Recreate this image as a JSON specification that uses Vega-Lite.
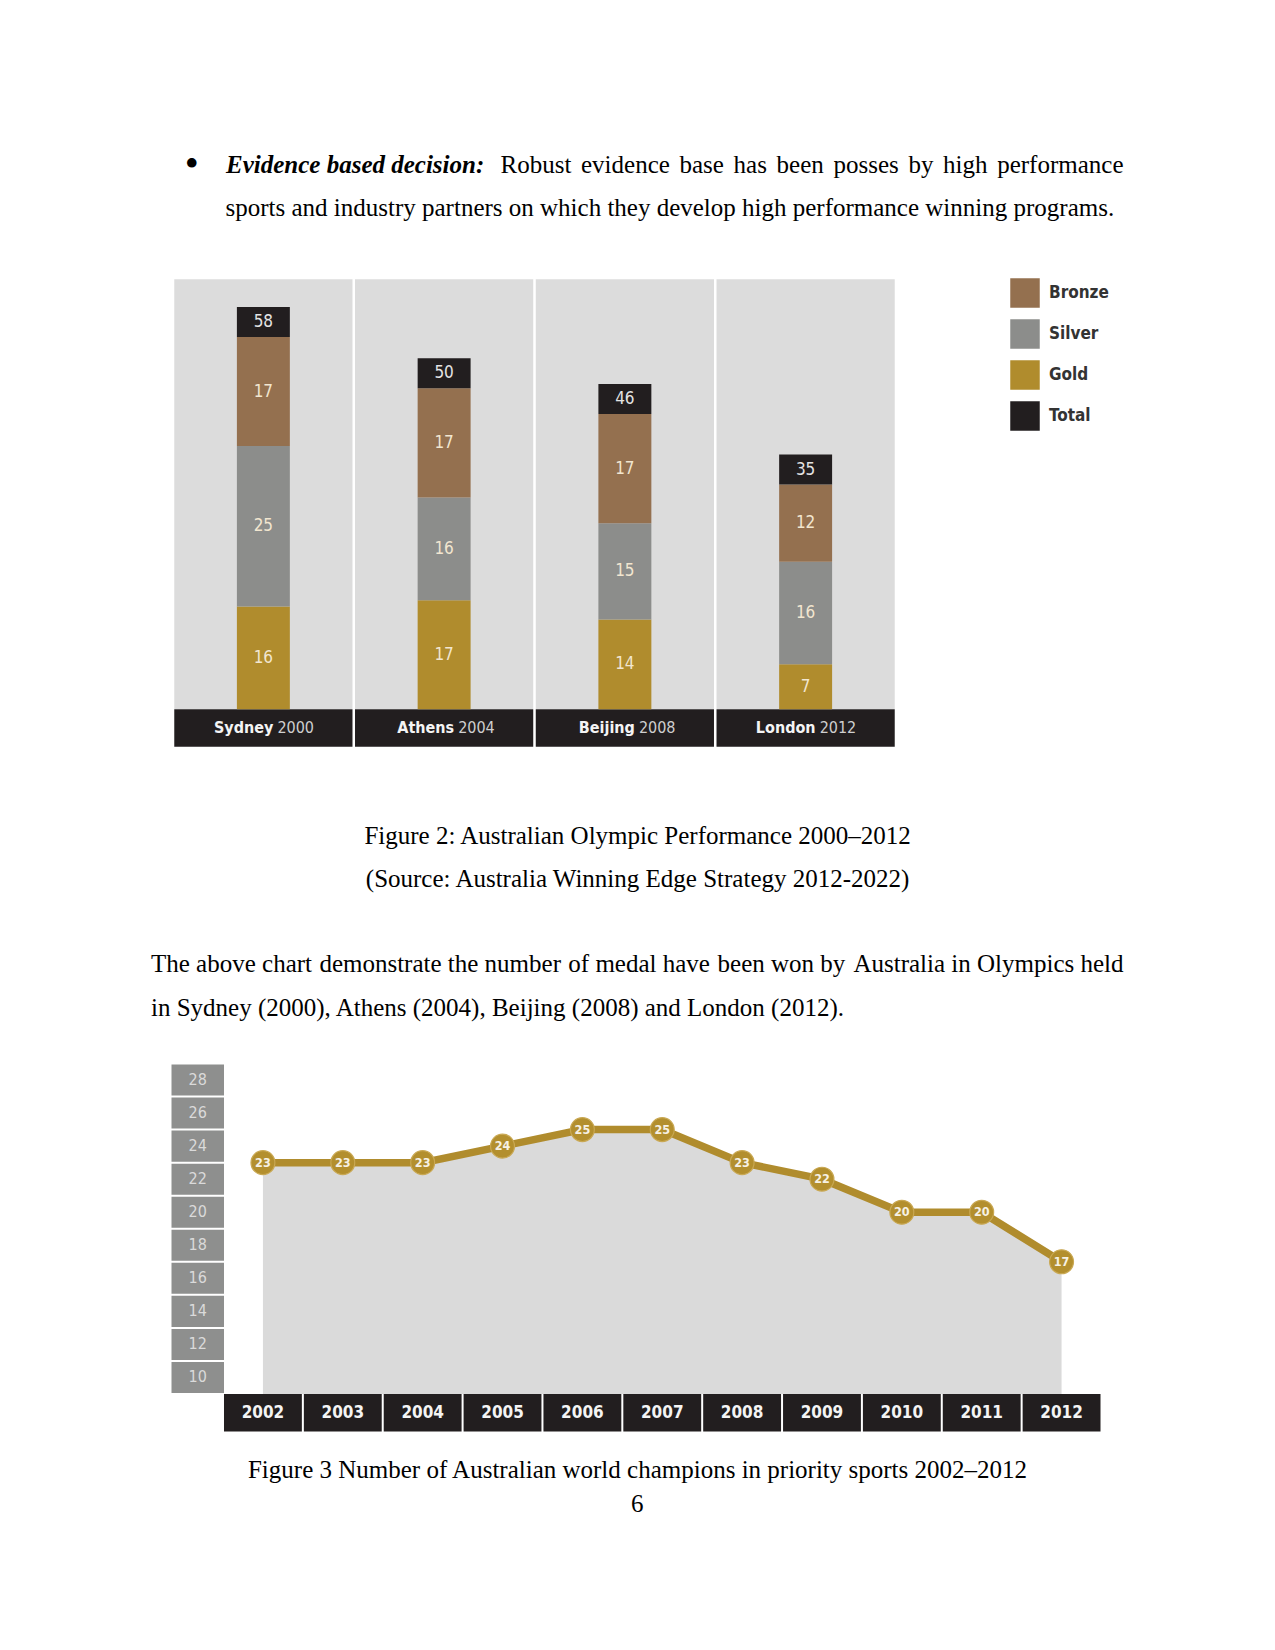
{
  "$schema": "https://vega.github.io/schema/vega-lite/v6.json",
  "width": 1275,
  "height": 1650,
  "autosize": {"type": "none"},
  "padding": 0,
  "background": "#ffffff",
  "config": {"view": {"stroke": null}},
  "datasets": {
    "medals": [
      {"city": "Sydney", "medal": "Gold", "count": 16},
      {"city": "Sydney", "medal": "Silver", "count": 25},
      {"city": "Sydney", "medal": "Bronze", "count": 17},
      {"city": "Athens", "medal": "Gold", "count": 17},
      {"city": "Athens", "medal": "Silver", "count": 16},
      {"city": "Athens", "medal": "Bronze", "count": 17},
      {"city": "Beijing", "medal": "Gold", "count": 14},
      {"city": "Beijing", "medal": "Silver", "count": 15},
      {"city": "Beijing", "medal": "Bronze", "count": 17},
      {"city": "London", "medal": "Gold", "count": 7},
      {"city": "London", "medal": "Silver", "count": 16},
      {"city": "London", "medal": "Bronze", "count": 12}
    ],
    "games": [
      {"city": "Sydney", "year": "2000", "total": 58},
      {"city": "Athens", "year": "2004", "total": 50},
      {"city": "Beijing", "year": "2008", "total": 46},
      {"city": "London", "year": "2012", "total": 35}
    ],
    "champions": [
      {"year": "2002", "count": 23},
      {"year": "2003", "count": 23},
      {"year": "2004", "count": 23},
      {"year": "2005", "count": 24},
      {"year": "2006", "count": 25},
      {"year": "2007", "count": 25},
      {"year": "2008", "count": 23},
      {"year": "2009", "count": 22},
      {"year": "2010", "count": 20},
      {"year": "2011", "count": 20},
      {"year": "2012", "count": 17}
    ],
    "ticks": [
      {"v": 28}, {"v": 26}, {"v": 24}, {"v": 22}, {"v": 20},
      {"v": 18}, {"v": 16}, {"v": 14}, {"v": 12}, {"v": 10}
    ]
  },
  "layer": [
    {
      "encoding": {
        "x": {"field": "city", "type": "nominal", "sort": null, "axis": null,
              "scale": {"domain": ["Sydney", "Athens", "Beijing", "London"], "range": [173, 896], "paddingInner": 0, "paddingOuter": 0}}
      },
      "layer": [
        {
          "data": {"name": "games"},
          "mark": {"type": "bar", "fill": "#dcdcdc", "width": {"band": 0.986}},
          "encoding": {
            "y": {"datum": 67, "type": "quantitative", "axis": null, "scale": {"domain": [0, 67], "range": [709.3, 279.2], "nice": false, "zero": false}},
            "y2": {"datum": 0}
          }
        },
        {
          "data": {"name": "games"},
          "mark": {"type": "bar", "fill": "#221e1f", "width": {"band": 0.986}, "y2Offset": 37.5},
          "encoding": {
            "y": {"datum": 0, "type": "quantitative", "axis": null, "scale": {"domain": [0, 67], "range": [709.3, 279.2], "nice": false, "zero": false}},
            "y2": {"datum": 0}
          }
        },
        {
          "data": {"name": "medals"},
          "transform": [{"stack": "count", "groupby": ["city"], "as": ["lo", "hi"]}],
          "mark": {"type": "bar", "width": {"band": 0.293}},
          "encoding": {
            "y": {"field": "lo", "type": "quantitative", "axis": null, "scale": {"domain": [0, 67], "range": [709.3, 279.2], "nice": false, "zero": false}},
            "y2": {"field": "hi"},
            "color": {
              "field": "medal", "type": "nominal",
              "scale": {"domain": ["Bronze", "Silver", "Gold", "Total"], "range": ["#94704f", "#8c8d8b", "#b08c2d", "#221e1f"]},
              "legend": {
                "orient": "none", "legendX": 1010, "legendY": 278, "title": null, "padding": 0,
                "symbolType": "square", "symbolSize": 870, "symbolStrokeWidth": 0, "symbolOpacity": 1,
                "rowPadding": 11, "labelOffset": 9,
                "labelFont": "DejaVu Sans Condensed", "labelFontSize": 17, "labelFontWeight": "bold", "labelColor": "#333333"
              }
            }
          }
        },
        {
          "data": {"name": "medals"},
          "transform": [
            {"stack": "count", "groupby": ["city"], "as": ["lo", "hi"]},
            {"fold": ["lo", "hi"], "as": ["edge", "pos"]},
            {"aggregate": [{"op": "mean", "field": "pos", "as": "mid"}], "groupby": ["city", "medal", "count"]}
          ],
          "mark": {"type": "text", "font": "DejaVu Sans Condensed", "fontSize": 17, "fill": "#f2e6d0", "baseline": "middle", "align": "center"},
          "encoding": {
            "y": {"field": "mid", "type": "quantitative", "axis": null, "scale": {"domain": [0, 67], "range": [709.3, 279.2], "nice": false, "zero": false}},
            "text": {"field": "count", "type": "quantitative"}
          }
        },
        {
          "data": {"name": "games"},
          "mark": {"type": "bar", "fill": "#221e1f", "width": {"band": 0.293}, "y2Offset": -30},
          "encoding": {
            "y": {"field": "total", "type": "quantitative", "axis": null, "scale": {"domain": [0, 67], "range": [709.3, 279.2], "nice": false, "zero": false}},
            "y2": {"field": "total"}
          }
        },
        {
          "data": {"name": "games"},
          "mark": {"type": "text", "font": "DejaVu Sans Condensed", "fontSize": 17, "fill": "#e4e4e4", "baseline": "middle", "align": "center", "dy": -15},
          "encoding": {
            "y": {"field": "total", "type": "quantitative", "axis": null, "scale": {"domain": [0, 67], "range": [709.3, 279.2], "nice": false, "zero": false}},
            "text": {"field": "total", "type": "quantitative"}
          }
        },
        {
          "data": {"name": "games"},
          "mark": {"type": "text", "font": "DejaVu Sans Condensed", "fontSize": 16, "fontWeight": "bold", "fill": "#f4f4f4", "baseline": "middle", "align": "right", "dx": 10, "dy": 18.7},
          "encoding": {
            "y": {"datum": 0, "type": "quantitative", "axis": null, "scale": {"domain": [0, 67], "range": [709.3, 279.2], "nice": false, "zero": false}},
            "text": {"field": "city"}
          }
        },
        {
          "data": {"name": "games"},
          "mark": {"type": "text", "font": "DejaVu Sans Condensed", "fontSize": 16, "fill": "#cfcfcf", "baseline": "middle", "align": "left", "dx": 14, "dy": 18.7},
          "encoding": {
            "y": {"datum": 0, "type": "quantitative", "axis": null, "scale": {"domain": [0, 67], "range": [709.3, 279.2], "nice": false, "zero": false}},
            "text": {"field": "year"}
          }
        }
      ]
    },
    {
      "data": {"name": "ticks"},
      "encoding": {
        "x": {"datum": "axis", "type": "nominal", "axis": null, "scale": {"domain": ["axis"], "range": [171.5, 224], "paddingInner": 0, "paddingOuter": 0}},
        "y": {"field": "v", "type": "ordinal", "sort": null, "axis": null, "scale": {"domain": [28, 26, 24, 22, 20, 18, 16, 14, 12, 10], "range": [1063.5, 1394], "paddingInner": 0.06, "paddingOuter": 0.03}}
      },
      "layer": [
        {"mark": {"type": "rect", "fill": "#8e8f8e"}},
        {
          "mark": {"type": "text", "font": "DejaVu Sans Condensed", "fontSize": 16, "fill": "#dadada", "baseline": "middle", "align": "center"},
          "encoding": {"text": {"field": "v", "type": "quantitative"}}
        }
      ]
    },
    {
      "data": {"name": "champions"},
      "encoding": {
        "x": {"field": "year", "type": "ordinal", "sort": null, "axis": null,
              "scale": {"domain": ["2002", "2003", "2004", "2005", "2006", "2007", "2008", "2009", "2010", "2011", "2012"], "range": [223, 1101.5], "paddingInner": 0, "paddingOuter": 0}}
      },
      "layer": [
        {
          "mark": {"type": "area", "fill": "#dadada"},
          "encoding": {
            "y": {"field": "count", "type": "quantitative", "axis": null, "scale": {"domain": [9, 29], "range": [1394, 1063.5], "nice": false, "zero": false}},
            "y2": {"datum": 9}
          }
        },
        {
          "mark": {"type": "line", "stroke": "#b08c2d", "strokeWidth": 7.5},
          "encoding": {
            "y": {"field": "count", "type": "quantitative", "axis": null, "scale": {"domain": [9, 29], "range": [1394, 1063.5], "nice": false, "zero": false}}
          }
        },
        {
          "mark": {"type": "circle", "size": 570, "fill": "#b38f2e", "opacity": 1, "stroke": "#c9a853", "strokeWidth": 1.2},
          "encoding": {
            "y": {"field": "count", "type": "quantitative", "axis": null, "scale": {"domain": [9, 29], "range": [1394, 1063.5], "nice": false, "zero": false}}
          }
        },
        {
          "mark": {"type": "text", "font": "DejaVu Sans Condensed", "fontSize": 12.5, "fontWeight": "bold", "fill": "#f6f1e4", "baseline": "middle", "align": "center"},
          "encoding": {
            "y": {"field": "count", "type": "quantitative", "axis": null, "scale": {"domain": [9, 29], "range": [1394, 1063.5], "nice": false, "zero": false}},
            "text": {"field": "count", "type": "quantitative"}
          }
        },
        {
          "mark": {"type": "bar", "fill": "#221e1f", "width": {"band": 0.975}, "y2Offset": 37.6},
          "encoding": {
            "y": {"datum": 9, "type": "quantitative", "axis": null, "scale": {"domain": [9, 29], "range": [1394, 1063.5], "nice": false, "zero": false}},
            "y2": {"datum": 9}
          }
        },
        {
          "mark": {"type": "text", "font": "DejaVu Sans Condensed", "fontSize": 17, "fontWeight": "bold", "fill": "#f4f4f4", "baseline": "middle", "align": "center", "dy": 18.8},
          "encoding": {
            "y": {"datum": 9, "type": "quantitative", "axis": null, "scale": {"domain": [9, 29], "range": [1394, 1063.5], "nice": false, "zero": false}},
            "text": {"field": "year"}
          }
        }
      ]
    },
    {
      "data": {"values": [{"t": "•"}]},
      "mark": {"type": "text", "font": "Liberation Serif", "fontSize": 40, "fill": "#000000", "align": "center", "baseline": "alphabetic", "x": 191.7, "y": 176.5},
      "encoding": {"text": {"field": "t"}}
    },
    {
      "data": {"values": [{"t": "Evidence based decision:"}]},
      "mark": {"type": "text", "font": "Liberation Serif", "fontSize": 25, "fontWeight": "bold", "fontStyle": "italic", "fill": "#000000", "align": "left", "baseline": "alphabetic", "x": 226, "y": 172.7},
      "encoding": {"text": {"field": "t"}}
    },
    {
      "data": {"values": [{"t": "Robust"}]},
      "mark": {"type": "text", "font": "Liberation Serif", "fontSize": 25, "fill": "#000000", "align": "left", "baseline": "alphabetic", "x": 500.5, "y": 172.7},
      "encoding": {"text": {"field": "t"}}
    },
    {
      "data": {"values": [{"t": "evidence"}]},
      "mark": {"type": "text", "font": "Liberation Serif", "fontSize": 25, "fill": "#000000", "align": "left", "baseline": "alphabetic", "x": 581, "y": 172.7},
      "encoding": {"text": {"field": "t"}}
    },
    {
      "data": {"values": [{"t": "base"}]},
      "mark": {"type": "text", "font": "Liberation Serif", "fontSize": 25, "fill": "#000000", "align": "left", "baseline": "alphabetic", "x": 679.5, "y": 172.7},
      "encoding": {"text": {"field": "t"}}
    },
    {
      "data": {"values": [{"t": "has"}]},
      "mark": {"type": "text", "font": "Liberation Serif", "fontSize": 25, "fill": "#000000", "align": "left", "baseline": "alphabetic", "x": 733.6, "y": 172.7},
      "encoding": {"text": {"field": "t"}}
    },
    {
      "data": {"values": [{"t": "been"}]},
      "mark": {"type": "text", "font": "Liberation Serif", "fontSize": 25, "fill": "#000000", "align": "left", "baseline": "alphabetic", "x": 776.6, "y": 172.7},
      "encoding": {"text": {"field": "t"}}
    },
    {
      "data": {"values": [{"t": "posses"}]},
      "mark": {"type": "text", "font": "Liberation Serif", "fontSize": 25, "fill": "#000000", "align": "left", "baseline": "alphabetic", "x": 833.5, "y": 172.7},
      "encoding": {"text": {"field": "t"}}
    },
    {
      "data": {"values": [{"t": "by"}]},
      "mark": {"type": "text", "font": "Liberation Serif", "fontSize": 25, "fill": "#000000", "align": "left", "baseline": "alphabetic", "x": 908.4, "y": 172.7},
      "encoding": {"text": {"field": "t"}}
    },
    {
      "data": {"values": [{"t": "high"}]},
      "mark": {"type": "text", "font": "Liberation Serif", "fontSize": 25, "fill": "#000000", "align": "left", "baseline": "alphabetic", "x": 943.1, "y": 172.7},
      "encoding": {"text": {"field": "t"}}
    },
    {
      "data": {"values": [{"t": "performance"}]},
      "mark": {"type": "text", "font": "Liberation Serif", "fontSize": 25, "fill": "#000000", "align": "right", "baseline": "alphabetic", "x": 1123.5, "y": 172.7},
      "encoding": {"text": {"field": "t"}}
    },
    {
      "data": {"values": [{"t": "sports and industry partners on which they develop high performance winning programs."}]},
      "mark": {"type": "text", "font": "Liberation Serif", "fontSize": 25, "fill": "#000000", "align": "left", "baseline": "alphabetic", "x": 225.5, "y": 216},
      "encoding": {"text": {"field": "t"}}
    },
    {
      "data": {"values": [{"t": "Figure 2: Australian Olympic Performance 2000–2012"}]},
      "mark": {"type": "text", "font": "Liberation Serif", "fontSize": 25, "fill": "#000000", "align": "center", "baseline": "alphabetic", "x": 637.6, "y": 843.7},
      "encoding": {"text": {"field": "t"}}
    },
    {
      "data": {"values": [{"t": "(Source: Australia Winning Edge Strategy 2012-2022)"}]},
      "mark": {"type": "text", "font": "Liberation Serif", "fontSize": 25, "fill": "#000000", "align": "center", "baseline": "alphabetic", "x": 637.6, "y": 886.7},
      "encoding": {"text": {"field": "t"}}
    },
    {
      "data": {"values": [{"t": "The above chart"}]},
      "mark": {"type": "text", "font": "Liberation Serif", "fontSize": 25, "fill": "#000000", "align": "left", "baseline": "alphabetic", "x": 151, "y": 972.3},
      "encoding": {"text": {"field": "t"}}
    },
    {
      "data": {"values": [{"t": "demonstrate the number"}]},
      "mark": {"type": "text", "font": "Liberation Serif", "fontSize": 25, "fill": "#000000", "align": "left", "baseline": "alphabetic", "x": 319.4, "y": 972.3},
      "encoding": {"text": {"field": "t"}}
    },
    {
      "data": {"values": [{"t": "of medal have"}]},
      "mark": {"type": "text", "font": "Liberation Serif", "fontSize": 25, "fill": "#000000", "align": "left", "baseline": "alphabetic", "x": 568.3, "y": 972.3},
      "encoding": {"text": {"field": "t"}}
    },
    {
      "data": {"values": [{"t": "been won by"}]},
      "mark": {"type": "text", "font": "Liberation Serif", "fontSize": 25, "fill": "#000000", "align": "left", "baseline": "alphabetic", "x": 717.6, "y": 972.3},
      "encoding": {"text": {"field": "t"}}
    },
    {
      "data": {"values": [{"t": "Australia in Olympics held"}]},
      "mark": {"type": "text", "font": "Liberation Serif", "fontSize": 25, "fill": "#000000", "align": "right", "baseline": "alphabetic", "x": 1123.5, "y": 972.3},
      "encoding": {"text": {"field": "t"}}
    },
    {
      "data": {"values": [{"t": "in Sydney (2000), Athens (2004), Beijing (2008) and London (2012)."}]},
      "mark": {"type": "text", "font": "Liberation Serif", "fontSize": 25, "fill": "#000000", "align": "left", "baseline": "alphabetic", "x": 151, "y": 1016},
      "encoding": {"text": {"field": "t"}}
    },
    {
      "data": {"values": [{"t": "Figure 3 Number of Australian world champions in priority sports 2002–2012"}]},
      "mark": {"type": "text", "font": "Liberation Serif", "fontSize": 25, "fill": "#000000", "align": "center", "baseline": "alphabetic", "x": 637.5, "y": 1477.7},
      "encoding": {"text": {"field": "t"}}
    },
    {
      "data": {"values": [{"t": "6"}]},
      "mark": {"type": "text", "font": "Liberation Serif", "fontSize": 25, "fill": "#000000", "align": "center", "baseline": "alphabetic", "x": 637.3, "y": 1512.3},
      "encoding": {"text": {"field": "t"}}
    }
  ],
  "resolve": {"scale": {"x": "independent", "y": "independent", "color": "independent"}}
}
